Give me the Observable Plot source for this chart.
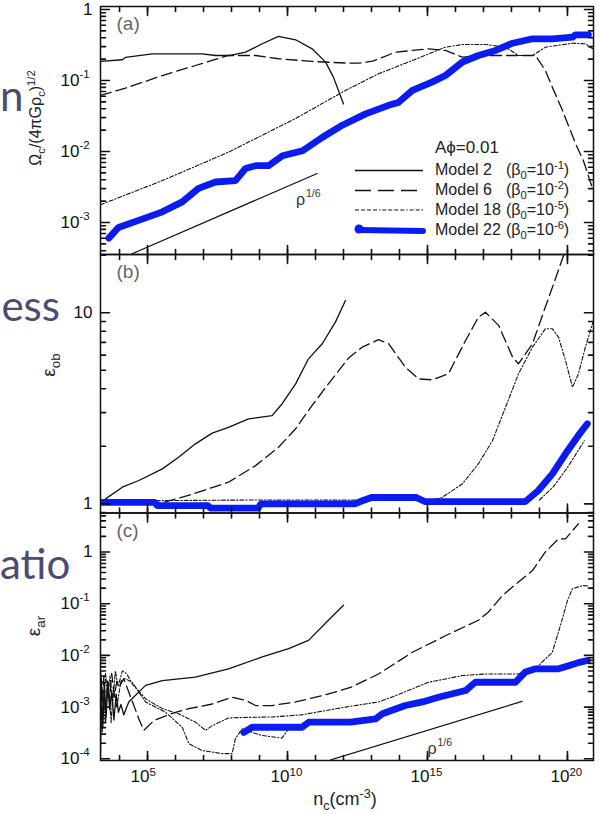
<!DOCTYPE html>
<html><head><meta charset="utf-8">
<script src="https://cdn.jsdelivr.net/npm/d3@7"></script>
<script src="https://cdn.jsdelivr.net/npm/@observablehq/plot@0.6"></script>
<style>
body{margin:0;background:#fff;}
#wrap{position:relative;width:599px;height:814px;overflow:hidden;font-family:"Liberation Sans",Arial,sans-serif;color:#111;}
#wrap svg.p{position:absolute;left:0;top:0;}
.bg{position:absolute;left:0;width:60px;text-align:right;white-space:nowrap;font-family:Lato,"Open Sans",sans-serif;font-size:42px;color:#4b4c72;line-height:1;}
.bgn{width:22px;}
.ylab{position:absolute;transform:translate(-50%,-50%) rotate(-90deg);white-space:nowrap;color:#222;}
.ylab sub,.ylab sup,.xlab sub,.xlab sup,.leg sub,.leg sup{font-size:70%;line-height:0;}
.xlab{position:absolute;white-space:nowrap;transform:translateX(-50%);font-size:18px;color:#222;}
.leg{position:absolute;left:435px;white-space:nowrap;font-size:16px;color:#222;line-height:1;}
.leg .m{display:inline-block;width:71px;}
</style></head>
<body><div id="wrap"></div>
<script>
// ---------- data: [log10 n_c, log10 value] ----------
// panel (a) Omega_c / (4 pi G rho_c)^1/2
const a_model2 = [[3.32,-0.732],[4.10,-0.708],[4.21,-0.676],[5.17,-0.624],[6.95,-0.624],[7.43,-0.648],[7.96,-0.648],[8.5,-0.601],[9.10,-0.483],[9.68,-0.38],[10.29,-0.427],[10.88,-0.554],[11.36,-0.742],[11.64,-0.953],[11.82,-1.14],[12.0,-1.33]];
const a_model6 = [[3.32,-1.21],[4.32,-1.094],[5.53,-0.93],[6.71,-0.789],[7.89,-0.648],[8.86,-0.648],[9.68,-0.694],[10.88,-0.732],[12.18,-0.756],[12.54,-0.756],[13.04,-0.728],[13.86,-0.601],[14.46,-0.577],[15.04,-0.554],[15.64,-0.577],[16.25,-0.672],[17.25,-0.648],[18.32,-0.648],[18.86,-0.648],[19.21,-0.859],[19.46,-1.094],[19.82,-1.42],[20.29,-1.89],[20.57,-2.13],[20.86,-2.48]];
const a_model18 = [[3.32,-2.75],[5.53,-2.41],[7.89,-2.01],[10.29,-1.535],[12.07,-1.14],[13.25,-0.906],[14.46,-0.718],[15.64,-0.531],[16.25,-0.493],[17.07,-0.493],[17.79,-0.531],[18.25,-0.648],[18.75,-0.648],[19.21,-0.531],[20.18,-0.475],[20.64,-0.483],[20.93,-0.56]];
const a_model22 = [[3.62,-3.22],[3.96,-3.07],[4.68,-2.97],[5.53,-2.85],[6.24,-2.71],[6.82,-2.52],[7.43,-2.43],[8.14,-2.41],[8.5,-2.24],[8.86,-2.20],[9.32,-2.20],[9.82,-2.06],[10.54,-1.99],[11.25,-1.80],[11.96,-1.63],[12.79,-1.47],[13.61,-1.35],[13.96,-1.31],[14.46,-1.14],[15.18,-1.02],[15.64,-0.93],[16.25,-0.74],[16.82,-0.648],[17.43,-0.577],[18.04,-0.475],[18.75,-0.413],[19.46,-0.413],[20.18,-0.39],[20.29,-0.357],[20.75,-0.357]];
const a_slope = [[4.45,-3.44],[11.06,-2.31]];
// panel (b) epsilon_ob
const b_model2 = [[3.32,0.0],[3.5,0.026],[4.10,0.087],[4.69,0.122],[5.53,0.183],[6.11,0.244],[6.71,0.314],[7.31,0.37],[7.89,0.40],[8.61,0.445],[9.45,0.462],[9.81,0.524],[10.29,0.628],[10.75,0.759],[11.24,0.838],[11.71,0.951],[12.07,1.064]];
const b_model6 = [[3.32,0.0],[5.5,0.005],[6.46,0.044],[7.89,0.113],[8.86,0.20],[9.68,0.296],[10.29,0.393],[10.88,0.515],[11.46,0.628],[12.18,0.763],[12.67,0.82],[13.25,0.859],[13.61,0.838],[14.21,0.715],[14.68,0.654],[15.18,0.649],[15.75,0.681],[16.36,0.855],[16.82,0.977],[17.07,1.003],[17.54,0.934],[18.04,0.768],[18.25,0.733],[18.75,0.838],[19.21,1.03],[19.57,1.178],[19.86,1.30],[19.96,1.35]];
const b_model18 = [[3.32,0.0],[5.5,0.017],[8.7,0.02],[12.0,0.02],[15.2,0.02],[15.54,0.035],[16.25,0.105],[16.82,0.21],[17.32,0.33],[17.79,0.506],[18.25,0.68],[18.75,0.82],[19.21,0.916],[19.46,0.916],[19.68,0.872],[19.93,0.75],[20.18,0.61],[20.39,0.68],[20.64,0.82],[20.93,0.96]];
const b_model22 = [[3.32,0.008],[5.25,0.008],[5.35,-0.009],[7.15,-0.009],[7.25,-0.022],[8.95,-0.022],[9.05,0.0],[12.4,0.0],[12.6,0.012],[13.0,0.033],[14.6,0.033],[14.9,0.012],[18.5,0.012],[18.96,0.07],[19.46,0.157],[19.93,0.262],[20.39,0.358],[20.71,0.419]];
const b_thin22 = [[19.0,0.02],[19.5,0.09],[20.0,0.19],[20.6,0.33]];
// panel (c) epsilon_ar
const c_model2 = [[3.32,-4.0],[3.35,-2.45],[3.40,-3.4],[3.46,-2.6],[3.52,-3.2],[3.58,-2.55],[3.65,-3.05],[3.72,-2.7],[3.80,-3.25],[3.88,-2.75],[3.96,-3.1],[4.05,-2.95],[4.15,-3.15],[4.33,-2.90],[4.93,-2.58],[5.53,-2.49],[6.71,-2.42],[7.89,-2.26],[9.10,-2.03],[10.04,-1.87],[10.75,-1.71],[11.46,-1.32],[12.0,-1.03]];
const c_model6 = [[3.32,-2.3],[3.38,-2.9],[3.44,-2.4],[3.5,-3.3],[3.57,-2.5],[3.64,-2.9],[3.72,-2.35],[3.82,-2.8],[3.9,-2.5],[4.0,-2.6],[4.15,-2.45],[4.33,-2.71],[4.69,-3.23],[4.87,-3.45],[5.23,-3.26],[5.88,-3.12],[6.48,-3.03],[7.31,-2.94],[8.02,-2.81],[8.5,-2.87],[8.86,-2.97],[9.45,-2.97],[10.29,-2.90],[11.24,-2.78],[12.25,-2.62],[13.25,-2.36],[14.46,-1.94],[15.64,-1.62],[16.82,-1.32],[17.18,-1.16],[17.68,-0.84],[18.25,-0.58],[18.75,-0.36],[19.21,0.0],[19.68,0.255],[19.93,0.255],[20.39,0.545]];
const c_model18 = [[3.32,-3.6],[3.37,-2.6],[3.43,-3.0],[3.5,-2.35],[3.58,-2.8],[3.66,-2.4],[3.75,-2.95],[3.85,-2.3],[3.95,-2.6],[4.1,-2.3],[4.25,-2.35],[4.45,-2.55],[4.93,-2.84],[5.53,-3.03],[6.11,-3.13],[6.71,-3.29],[7.07,-3.45],[7.31,-3.36],[7.89,-3.21],[8.5,-3.2],[9.5,-3.19],[10.5,-3.15],[12.07,-3.0],[13.25,-2.9],[13.86,-2.78],[15.04,-2.52],[16.25,-2.39],[17.07,-2.36],[18.25,-2.36],[18.96,-2.20],[19.46,-1.94],[19.82,-1.29],[20.0,-0.94],[20.18,-0.71],[20.54,-0.65],[20.75,-0.66]];
const c_thin22 = [[3.32,-2.8],[3.38,-3.5],[3.45,-2.7],[3.52,-3.0],[3.6,-2.5],[3.7,-3.3],[3.78,-2.6],[3.9,-3.0],[4.05,-2.5],[4.2,-2.45],[4.45,-2.52],[4.93,-2.9],[5.64,-3.10],[6.24,-3.39],[6.48,-3.71],[6.95,-3.84],[7.67,-3.90],[8.02,-3.90],[8.14,-3.61],[8.38,-3.42],[8.8,-3.5],[9.1,-3.55],[9.8,-3.6],[10.0,-3.45],[10.3,-3.35]];
const c_model22 = [[8.44,-3.49],[8.74,-3.39],[10.52,-3.39],[10.76,-3.29],[12.25,-3.29],[13.14,-3.23],[13.39,-3.13],[14.21,-2.97],[14.82,-2.90],[15.39,-2.81],[16.36,-2.68],[16.71,-2.52],[18.14,-2.52],[18.5,-2.32],[18.86,-2.26],[19.68,-2.26],[20.04,-2.20],[20.39,-2.14],[20.71,-2.10]];
const c_slope = [[11.55,-4.02],[18.38,-2.89]];
// annotations
const slopeLabelA = [[10.3,-2.68]];
const slopeLabelC = [[15.0,-3.8]];
const panelNames = ["(a)","(b)","(c)"];
// ticks
const xMajorTicks = [1e5,1e10,1e15,1e20];
const yMajorA = [1,1e-1,1e-2,1e-3];
const yMajorB = [1,10];
const yMajorC = [1,1e-1,1e-2,1e-3,1e-4];

const W = 599, H = 814, ML = 100, MR = 6;
const xDomain = [10**3.32, 10**20.93];
const xDecades = d3.range(4, 21).map(e => 10**e);
const rows = pts => pts.map(([lx, ly]) => ({n: 10**lx, v: 10**ly}));
const expo = v => Math.round(Math.log10(v));
const BLUE = "#0b1cf2";
const INK = "#111111";

function series(d, kind) {
  const o = {x: "n", y: "v", clip: true, strokeLinejoin: "round"};
  if (kind === "m2") return Plot.line(rows(d), {...o, stroke: INK, strokeWidth: 1.3});
  if (kind === "m6") return Plot.line(rows(d), {...o, stroke: INK, strokeWidth: 1.3, strokeDasharray: "11,5"});
  if (kind === "m18") return Plot.line(rows(d), {...o, stroke: INK, strokeWidth: 1.1, strokeDasharray: "4,2,1.3,2"});
  if (kind === "m22") return Plot.line(rows(d), {...o, stroke: BLUE, strokeWidth: 6.8, strokeLinecap: "round"});
  if (kind === "ref") return Plot.line(rows(d), {...o, stroke: INK, strokeWidth: 1.2});
}

function panel({mt, mb, ydom, lines, yMajor, name, xLabels, notes}) {
  const [y0, y1] = ydom;
  const [x0, x1] = xDomain;
  // pixel length -> multiplicative step on each log scale
  const pxDecX = (W - ML - MR) / Math.log10(x1 / x0);
  const pxDecY = (H - mt - mb) / Math.log10(y1 / y0);
  const kx = len => 10 ** (len / pxDecX), ky = len => 10 ** (len / pxDecY);
  const minor = [];
  for (let e = Math.floor(Math.log10(y0)) - 1; e <= Math.ceil(Math.log10(y1)); e++)
    for (let k = 2; k <= 9; k++) { const v = k * 10**e; if (v > y0 && v < y1) minor.push(v); }
  // inward tick segments built from the tick values, drawn as short clipped lines
  const segs = [];
  let id = 0;
  const addY = (t, len) => t.forEach(v => {
    segs.push({n: x0, v, id}, {n: x0 * kx(len), v, id}); id++;
    segs.push({n: x1 / kx(len), v, id}, {n: x1, v, id}); id++;
  });
  const addX = (t, len) => t.forEach(n => {
    segs.push({n, v: y1, id}, {n, v: y1 / ky(len), id}); id++;
    segs.push({n, v: y0, id}, {n, v: y0 * ky(len), id}); id++;
  });
  addY(yMajor, 9); addY(minor, 5); addX(xDecades, 5); addX(xMajorTicks, 9);
  const plain = yMajor.filter(v => expo(v) === 0 || expo(v) === 1);
  const powered = yMajor.filter(v => expo(v) < 0);
  const marks = [
    ...lines,
    Plot.line(segs, {x: "n", y: "v", z: "id", stroke: INK, strokeWidth: 1.6, clip: true}),
    Plot.frame({stroke: INK, strokeWidth: 1.5}),
    // y tick labels
    Plot.text(plain, {y: d => d, frameAnchor: "left", text: d => String(10 ** expo(d)), dx: -8, textAnchor: "end", fontSize: 17, fill: INK}),
    Plot.text(powered, {y: d => d, frameAnchor: "left", text: () => "10", dx: -21, textAnchor: "end", fontSize: 17, fill: INK}),
    Plot.text(powered, {y: d => d, frameAnchor: "left", text: d => "-" + String(-expo(d)), dx: -21, dy: -6, textAnchor: "start", fontSize: 11.5, fill: INK}),
    Plot.text([name], {frameAnchor: "top-left", text: d => d, dx: 16, dy: 10, fontSize: 19, fill: "#666", lineAnchor: "top", textAnchor: "start"})
  ];
  if (xLabels) {
    marks.push(Plot.text(xMajorTicks, {x: d => d, frameAnchor: "bottom", text: () => "10", dx: 2, dy: 21, textAnchor: "end", fontSize: 17, fill: INK}));
    marks.push(Plot.text(xMajorTicks, {x: d => d, frameAnchor: "bottom", text: d => String(expo(d)), dx: 2, dy: 15, textAnchor: "start", fontSize: 11.5, fill: INK}));
  }
  if (notes) for (const p of notes) {
    marks.push(Plot.text(rows(p), {x: "n", y: "v", text: () => "ρ", fontSize: 16, fill: "#333", textAnchor: "start"}));
    marks.push(Plot.text(rows(p), {x: "n", y: "v", text: () => "1/6", fontSize: 10.5, fill: "#333", textAnchor: "start", dx: 10, dy: -6}));
  }
  const svg = Plot.plot({
    width: W, height: H, marginLeft: ML, marginRight: MR, marginTop: mt, marginBottom: mb,
    x: {type: "log", domain: xDomain, axis: null},
    y: {type: "log", domain: ydom, axis: null},
    style: {background: "transparent", overflow: "visible", fontFamily: "'Liberation Sans', Arial, sans-serif", color: INK, fontSize: "16.5px"},
    marks
  });
  svg.classList.add("p");
  return svg;
}

const wrap = document.getElementById("wrap");
wrap.innerHTML = `
<div class="bg bgn" style="top:74px">n</div>
<div class="bg" style="top:284px">ess</div>
<div class="bg" style="top:542px">atio</div>`;

wrap.append(panel({
  mt: 6, mb: H - 254, ydom: [10**-3.451, 10**0.042], yMajor: yMajorA, name: panelNames[0],
  lines: [series(a_slope, "ref"), series(a_model2, "m2"), series(a_model6, "m6"), series(a_model18, "m18"), series(a_model22, "m22")],
  notes: [slopeLabelA]
}));
wrap.append(panel({
  mt: 254, mb: H - 512.5, ydom: [10**-0.048, 10**1.305], yMajor: yMajorB, name: panelNames[1],
  lines: [series(b_model2, "m2"), series(b_model6, "m6"), series(b_model18, "m18"), series(b_thin22, "m18"), series(b_model22, "m22")]
}));
wrap.append(panel({
  mt: 512.5, mb: H - 760, ydom: [10**-4.033, 10**0.754], yMajor: yMajorC, name: panelNames[2], xLabels: true,
  lines: [series(c_slope, "ref"), series(c_model2, "m2"), series(c_model6, "m6"), series(c_model18, "m18"), series(c_thin22, "m18"), series(c_model22, "m22")],
  notes: [slopeLabelC]
}));

const overlay = document.createElement("div");
overlay.innerHTML = `
<div class="ylab" style="left:36px;top:118px;font-size:16px">Ω<sub>c</sub>/(4πGρ<sub>c</sub>)<sup>1/2</sup></div>
<div class="ylab" style="left:49px;top:365px;font-size:19px">ε<sub>ob</sub></div>
<div class="ylab" style="left:34px;top:626px;font-size:19px">ε<sub>ar</sub></div>
<div class="xlab" style="left:345px;top:789px">n<sub>c</sub>(cm<sup>-3</sup>)</div>
<div class="leg" style="top:139px;font-size:17px">Aϕ=0.01</div>
<div class="leg" style="top:162px"><span class="m">Model 2</span>(β<sub>0</sub>=10<sup>-1</sup>)</div>
<div class="leg" style="top:182px"><span class="m">Model 6</span>(β<sub>0</sub>=10<sup>-2</sup>)</div>
<div class="leg" style="top:202px"><span class="m">Model 18</span>(β<sub>0</sub>=10<sup>-5</sup>)</div>
<div class="leg" style="top:222px"><span class="m">Model 22</span>(β<sub>0</sub>=10<sup>-6</sup>)</div>
<svg style="position:absolute;left:0;top:0" width="599" height="814">
<line x1="355" x2="423" y1="170.5" y2="170.5" stroke="${INK}" stroke-width="1.3"/>
<line x1="355" x2="423" y1="190.5" y2="190.5" stroke="${INK}" stroke-width="1.3" stroke-dasharray="16,7"/>
<line x1="355" x2="423" y1="210" y2="210" stroke="${INK}" stroke-width="1.1" stroke-dasharray="4,2,4,2,4,2,4,2,1.3,2"/>
<line x1="359" x2="423" y1="230" y2="231" stroke="${BLUE}" stroke-width="6" stroke-linecap="round"/>
<circle cx="359" cy="229" r="4.5" fill="${BLUE}"/>
</svg>`;
wrap.append(overlay);
</script></body></html>
